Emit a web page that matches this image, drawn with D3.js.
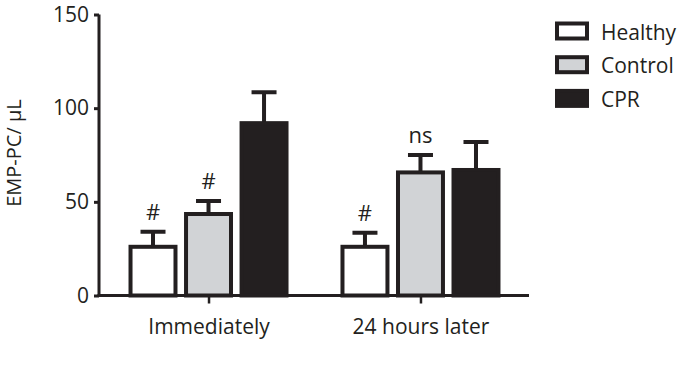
<!DOCTYPE html>
<html>
<head>
<meta charset="utf-8">
<script src="https://cdn.jsdelivr.net/npm/d3@7"></script>
<style>
  body { margin: 0; background: #fff; }
  text { font-family: "Open Sans", "Noto Sans", sans-serif; fill: #231f20; }
</style>
</head>
<body>
<svg id="chart" width="685" height="369"></svg>
<script>
let groups = ["Immediately", "24 hours later"];
let series = ["Healthy", "Control", "CPR"];
let means = [[26, 43.5, 92], [26, 65.7, 67]];
let errors = [[34, 50.5, 108.5], [33.5, 75, 82]];
let marks = [["#", "#", ""], ["#", "ns", ""]];
let yTicks = [0, 50, 100, 150];

let ink = "#231f20";
let fills = {Healthy: "#ffffff", Control: "#d1d3d6", CPR: ink};

let svg = d3.select("#chart");

let y = d3.scaleLinear().domain([0, 150]).range([295.5, 14.5]);
let x = d3.scalePoint().domain(groups).range([100, 529]).padding(0.512);
let inner = d3.scaleBand().domain(series).range([-78, 78]).paddingInner(0.19);

// Axes:
let yAxis = d3.axisLeft(y).tickValues(yTicks).tickSize(5).tickPadding(5);
let gy = svg.append("g").attr("transform", "translate(99,0)").call(yAxis);
gy.select(".domain").attr("stroke", ink).attr("stroke-width", 3).attr("d", "M0," + y(150) + "V" + y(0));
gy.selectAll(".tick line").attr("stroke", ink).attr("stroke-width", 3);
gy.selectAll(".tick text").attr("font-size", 21).style("fill", ink);

let xAxis = d3.axisBottom(x).tickSize(8).tickPadding(16);
let gx = svg.append("g").attr("transform", "translate(0," + y(0) + ")").call(xAxis);
gx.select(".domain").attr("stroke", ink).attr("stroke-width", 3).attr("d", "M97.5,0H529");
gx.selectAll(".tick line").attr("stroke", ink).attr("stroke-width", 2.5);
gx.selectAll(".tick text").attr("font-size", 21).style("fill", ink);

svg.append("text")
   .attr("transform", "translate(21,153) rotate(-90)")
   .attr("text-anchor", "middle")
   .attr("font-size", 20)
   .text("EMP-PC/ μL");

let rows = [];
groups.forEach((g, gi) => series.forEach((s, si) => rows.push({
  g: g, s: s, v: means[gi][si], e: errors[gi][si], m: marks[gi][si]
})));

let bx = d => x(d.g) + inner(d.s);
let cx = d => bx(d) + inner.bandwidth() / 2;

// error bars first, bars drawn over them
svg.selectAll(".err").data(rows).enter().append("path")
   .attr("class", "err")
   .attr("fill", "none").attr("stroke", ink).attr("stroke-width", 4)
   .attr("d", d => "M" + cx(d) + "," + y(d.v) + "V" + y(d.e) + "M" + (cx(d) - 12.5) + "," + y(d.e) + "H" + (cx(d) + 12.5));

svg.selectAll(".bar").data(rows).enter().append("rect")
   .attr("class", "bar")
   .attr("x", bx)
   .attr("width", inner.bandwidth())
   .attr("y", d => y(d.v))
   .attr("height", d => y(0) - y(d.v))
   .attr("fill", d => fills[d.s])
   .attr("stroke", ink).attr("stroke-width", 4);

svg.selectAll(".mark").data(rows.filter(d => d.m)).enter().append("text")
   .attr("class", "mark")
   .attr("x", cx)
   .attr("y", d => y(d.e) - 12)
   .attr("text-anchor", "middle")
   .attr("font-size", 22)
   .text(d => d.m);

// legend
let lg = svg.selectAll(".leg").data(series).enter().append("g")
   .attr("class", "leg")
   .attr("transform", (d, i) => "translate(557," + (23.5 + i * 33.7) + ")");
lg.append("rect")
  .attr("width", 30).attr("height", 15)
  .attr("fill", d => fills[d]).attr("stroke", ink).attr("stroke-width", 4);
lg.append("text")
  .attr("x", 44).attr("y", 16)
  .attr("font-size", 21)
  .text(d => d);
</script>
</body>
</html>
